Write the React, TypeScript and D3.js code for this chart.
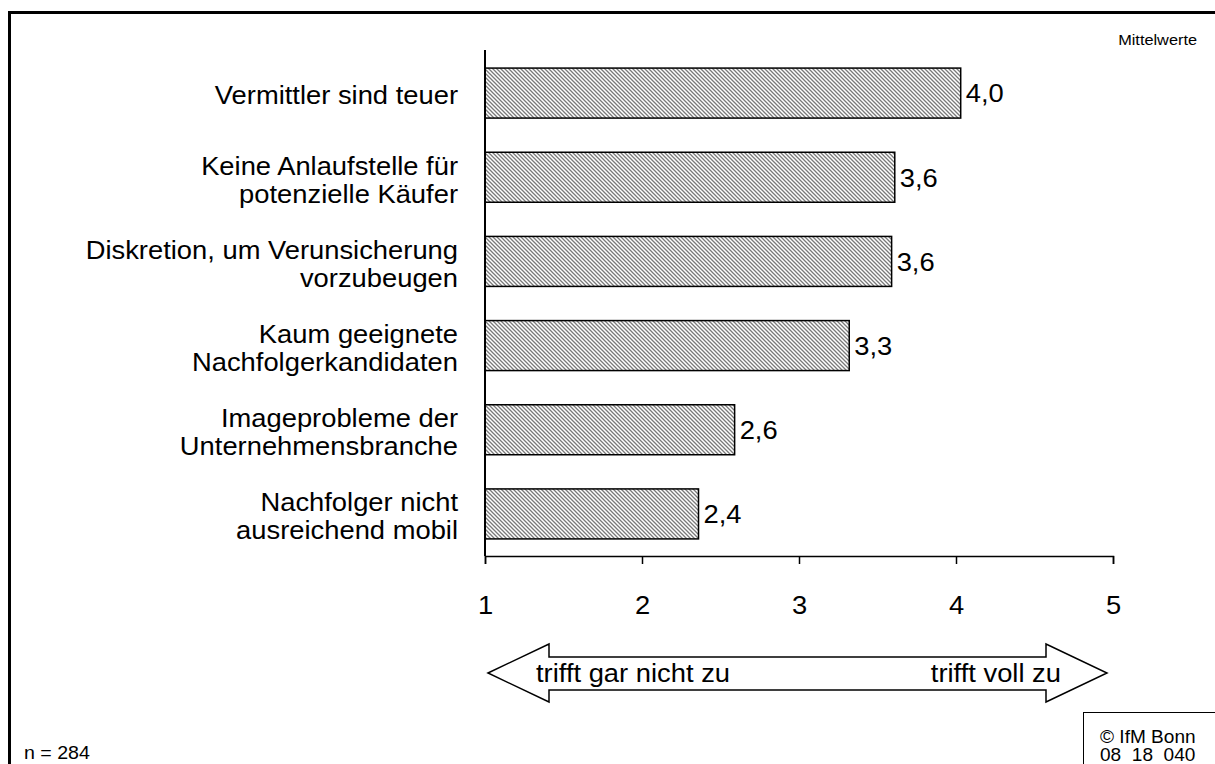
import React, { useEffect, useRef } from "react";
import * as d3 from "d3";

// Werte (Mittelwerte, Skala 1..5)
const categories = [
  ["Vermittler sind teuer"],
  ["Keine Anlaufstelle für", "potenzielle Käufer"],
  ["Diskretion, um Verunsicherung", "vorzubeugen"],
  ["Kaum geeignete", "Nachfolgerkandidaten"],
  ["Imageprobleme der", "Unternehmensbranche"],
  ["Nachfolger nicht", "ausreichend mobil"],
];
const values = [4.03, 3.61, 3.59, 3.32, 2.59, 2.36];
const valueLabels = ["4,0", "3,6", "3,6", "3,3", "2,6", "2,4"];
const xTicks = [1, 2, 3, 4, 5];
const scaleLeft = "trifft gar nicht zu";
const scaleRight = "trifft voll zu";

const W = 1215;
const H = 764;
const FONT = "Arial, 'Liberation Sans', sans-serif";
const SX = 1.06; // text is a bit wider than normal in the reference
const FS = 25.8;
const AXIS_Y = 556;

function App() {
  const svgRef = useRef<SVGSVGElement>(null);

  useEffect(() => {
    const svg = d3.select(svgRef.current);
    svg.selectAll("*").remove();
    svg.attr("font-family", FONT);

    const addText = (g: any, x: number, y: number, str: string, size: number, anchor = "start") =>
      g
        .append("text")
        .attr("transform", `translate(${x},${y}) scale(${SX},1)`)
        .attr("text-anchor", anchor)
        .attr("font-size", size)
        .attr("fill", "#000")
        .text(str);

    // hatch pattern
    const defs = svg.append("defs");
    const pat = defs
      .append("pattern")
      .attr("id", "hatch")
      .attr("patternUnits", "userSpaceOnUse")
      .attr("width", 4)
      .attr("height", 4);
    pat.append("rect").attr("width", 4).attr("height", 4).attr("fill", "#fff");
    pat
      .append("path")
      .attr("d", "M0,0 L4,4 M-1,3 L1,5 M3,-1 L5,1")
      .attr("stroke", "#7a7a7a")
      .attr("stroke-width", 1.3);

    // outer frame (only top/left visible)
    svg
      .append("rect")
      .attr("x", 9.5)
      .attr("y", 12.5)
      .attr("width", 1400)
      .attr("height", 1000)
      .attr("fill", "none")
      .attr("stroke", "#000")
      .attr("stroke-width", 3);

    const keys = categories.map((c) => c.join(" "));
    const x = d3.scaleLinear().domain([1, 5]).range([485, 1113]);
    const y = d3
      .scaleBand<string>()
      .domain(keys)
      .range([51, AXIS_Y])
      .paddingInner(0.406)
      .paddingOuter(0.203);

    // bars
    svg
      .selectAll("rect.bar")
      .data(values)
      .enter()
      .append("rect")
      .attr("class", "bar")
      .attr("x", x(1))
      .attr("y", (d, i) => y(keys[i])!)
      .attr("width", (d) => x(d) - x(1))
      .attr("height", y.bandwidth())
      .attr("fill", "url(#hatch)")
      .attr("stroke", "#000")
      .attr("stroke-width", 1.5);

    // value labels
    values.forEach((v, i) => {
      addText(svg, x(v) + 5, y(keys[i])! + y.bandwidth() / 2 + FS * 0.36, valueLabels[i], FS);
    });

    // category labels
    categories.forEach((lines, i) => {
      const cy = y(keys[i])! + y.bandwidth() / 2;
      lines.forEach((ln, j) => {
        const yy = cy + (j - (lines.length - 1) / 2) * 28 + FS * 0.36 + 2;
        addText(svg, 458, yy, ln, FS, "end");
      });
    });

    // vertical axis
    svg
      .append("line")
      .attr("x1", x(1))
      .attr("x2", x(1))
      .attr("y1", 50)
      .attr("y2", AXIS_Y)
      .attr("stroke", "#000")
      .attr("stroke-width", 2);

    // x axis
    const xAxis = d3
      .axisBottom(x)
      .tickValues(xTicks)
      .tickSize(8)
      .tickSizeOuter(8)
      .tickFormat(d3.format("d"));
    const gx = svg
      .append("g")
      .attr("transform", `translate(0,${AXIS_Y})`)
      .call(xAxis as any)
      .attr("font-family", FONT)
      .attr("font-size", FS);
    gx.select(".domain").attr("stroke", "#000").attr("stroke-width", 1.5);
    gx.selectAll(".tick line").attr("stroke", "#000").attr("stroke-width", 1.5);
    gx.selectAll(".tick text")
      .attr("y", null)
      .attr("dy", null)
      .attr("fill", "#000")
      .attr("transform", `translate(0,58) scale(${SX},1)`);

    // double arrow
    const ay = 673;
    const xl = x(1) + 3;
    const xr = x(5) - 6;
    const head = 61;
    const arrow = [
      [xl, ay],
      [xl + head, ay - 29],
      [xl + head, ay - 16],
      [xr - head, ay - 16],
      [xr - head, ay - 29],
      [xr, ay],
      [xr - head, ay + 29],
      [xr - head, ay + 17],
      [xl + head, ay + 17],
      [xl + head, ay + 29],
    ] as [number, number][];
    svg
      .append("path")
      .attr("d", d3.line()(arrow) + "Z")
      .attr("fill", "#fff")
      .attr("stroke", "#000")
      .attr("stroke-width", 1.5);
    addText(svg, 536, ay + 9, scaleLeft, FS);
    addText(svg, 1061, ay + 9, scaleRight, FS, "end");

    // annotations
    addText(svg, 1197, 45, "Mittelwerte", 15.4, "end");
    addText(svg, 24, 759, "n = 284", 18.5, "start");
    svg
      .append("rect")
      .attr("x", 1083.5)
      .attr("y", 712.5)
      .attr("width", 200)
      .attr("height", 100)
      .attr("fill", "none")
      .attr("stroke", "#000")
      .attr("stroke-width", 1);
    addText(svg, 1100, 743, "© IfM Bonn", 18);
    addText(svg, 1100, 761, "08\u00a0\u00a018\u00a0\u00a0040", 18);
  }, []);

  return (
    <React.Fragment>
      <svg
        ref={svgRef}
        width={W}
        height={H}
        style={{ position: "absolute", left: 0, top: 0, background: "#fff" }}
      ></svg>
    </React.Fragment>
  );
}

export default App;
